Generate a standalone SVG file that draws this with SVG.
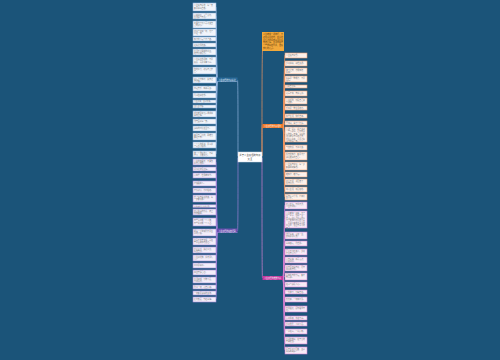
<svg xmlns="http://www.w3.org/2000/svg" width="500" height="360" viewBox="0 0 500 360">
<style>
.bg{fill:#1b5479}
.c1 rect{fill:#f2f5fb;stroke:#8fb2dc;stroke-width:.6}
.c2 rect{fill:#f3eefa;stroke:#a58bd6;stroke-width:.6}
.c3 rect{fill:#fdf2ec;stroke:#f09a6e;stroke-width:.6}
.c4 rect{fill:#f8ecf7;stroke:#d27fcf;stroke-width:.6}
text{font-family:"Noto Sans CJK SC","Noto Sans",sans-serif;font-size:1.9px;fill:#777}
.w{fill:#ffffff}
.d{fill:#5a3a10;font-size:2px}
.l1{fill:none;stroke:#8fb2dc;stroke-width:.7}
.l2{fill:none;stroke:#9b7fd6;stroke-width:.7}
.l3{fill:none;stroke:#f0955e;stroke-width:.7}
.l4{fill:none;stroke:#d67fd0;stroke-width:.7}
</style>
<rect class="bg" x="0" y="0" width="500" height="360"/>
<g id="connectors">
<path class="l1" d="M238 156 C238 120 238 80 237.5 80"/>
<path class="l2" d="M238 158 C238 200 238 231 237.5 231"/>
<path class="l3" d="M262 156 C262 120 262 126 262.5 126"/>
<path class="l3" d="M262 156 C262 100 262 60 262.5 51"/>
<path class="l4" d="M262 158 C262 220 262 278 262.5 278"/>
<path class="l1" d="M217 80 C216.5 80 216.5 7 216 7 M217 80 C216.5 80 216.5 16 216 16 M217 80 C216.5 80 216.5 24 216 24 M217 80 C216.5 80 216.5 32 216 32 M217 80 C216.5 80 216.5 39 216 39 M217 80 C216.5 80 216.5 45 216 45 M217 80 C216.5 80 216.5 52 216 52 M217 80 C216.5 80 216.5 61 216 61 M217 80 C216.5 80 216.5 70 216 70 M217 80 C216.5 80 216.5 88 216 88 M217 80 C216.5 80 216.5 95 216 95 M217 80 C216.5 80 216.5 101 216 101 M217 80 C216.5 80 216.5 106 216 106 M217 80 C216.5 80 216.5 114 216 114 M217 80 C216.5 80 216.5 121 216 121 M217 80 C216.5 80 216.5 128 216 128 M217 80 C216.5 80 216.5 136 216 136 M217 80 C216.5 80 216.5 145 216 145 M217 80 C216.5 80 216.5 154 216 154"/>
<path class="l2" d="M217 231 C216.5 231 216.5 162 216 162 M217 231 C216.5 231 216.5 169 216 169 M217 231 C216.5 231 216.5 175 216 175 M217 231 C216.5 231 216.5 183 216 183 M217 231 C216.5 231 216.5 190 216 190 M217 231 C216.5 231 216.5 198 216 198 M217 231 C216.5 231 216.5 206 216 206 M217 231 C216.5 231 216.5 212 216 212 M217 231 C216.5 231 216.5 222 216 222 M217 231 C216.5 231 216.5 241 216 241 M217 231 C216.5 231 216.5 250 216 250 M217 231 C216.5 231 216.5 258 216 258 M217 231 C216.5 231 216.5 265 216 265 M217 231 C216.5 231 216.5 272 216 272 M217 231 C216.5 231 216.5 280 216 280 M217 231 C216.5 231 216.5 287 216 287 M217 231 C216.5 231 216.5 293 216 293 M217 231 C216.5 231 216.5 299 216 299"/>
<path class="l3" d="M283 126 C284 126 284 55 285 55 M283 126 C284 126 284 63 285 63 M283 126 C284 126 284 71 285 71 M283 126 C284 126 284 79 285 79 M283 126 C284 126 284 86 285 86 M283 126 C284 126 284 93 285 93 M283 126 C284 126 284 101 285 101 M283 126 C284 126 284 108 285 108 M283 126 C284 126 284 116 285 116 M283 126 C284 126 284 123 285 123 M283 126 C284 126 284 134 285 134 M283 126 C284 126 284 147 285 147 M283 126 C284 126 284 156 285 156 M283 126 C284 126 284 166 285 166 M283 126 C284 126 284 174 285 174 M283 126 C284 126 284 182 285 182 M283 126 C284 126 284 189 285 189 M283 126 C284 126 284 197 285 197"/>
<path class="l4" d="M283 278 C284 278 284 205 285 205 M283 278 C284 278 284 219 285 219 M283 278 C284 278 284 235 285 235 M283 278 C284 278 284 243 285 243 M283 278 C284 278 284 252 285 252 M283 278 C284 278 284 260 285 260 M283 278 C284 278 284 268 285 268 M283 278 C284 278 284 276 285 276 M283 278 C284 278 284 284 285 284 M283 278 C284 278 284 292 285 292 M283 278 C284 278 284 299 285 299 M283 278 C284 278 284 309 285 309 M283 278 C284 278 284 318 285 318 M283 278 C284 278 284 324 285 324 M283 278 C284 278 284 331 285 331 M283 278 C284 278 284 340 285 340 M283 278 C284 278 284 350 285 350"/>
</g>
<g id="center"><rect x="238" y="152" width="24" height="10" fill="#ffffff" stroke="#c8d4e4" stroke-width=".5"/><text x="250" y="156.3" text-anchor="middle" style="fill:#333;font-size:2.4px">关于人生感悟的句子</text><text x="250" y="159.6" text-anchor="middle" style="fill:#333;font-size:2.4px">大全</text></g>
<g id="note"><rect x="262" y="32" width="22" height="19" fill="#f2a93b"/><text class="d" x="263" y="35"><tspan x="263">人生就像一场旅行，不</tspan><tspan x="263" dy="2.8">必在乎目的地，在乎的</tspan><tspan x="263" dy="2.8">是沿途的风景以及看风</tspan><tspan x="263" dy="2.8">景的心情。生活中总有</tspan><tspan x="263" dy="2.8">一些美好的句子，温暖</tspan><tspan x="263" dy="2.8">我们的心灵。</tspan></text></g>
<g id="branch-l1"><rect x="217" y="77.5" width="20.5" height="4" fill="#2a6a9a"/><line x1="217" y1="81.5" x2="237.5" y2="81.5" stroke="#8fb2dc" stroke-width=".6"/><text class="w" x="227.2" y="80.6" text-anchor="middle">人生感悟的句子精选</text></g>
<g id="branch-l2"><rect x="217" y="228.5" width="20.5" height="4" fill="#6a4fb0"/><line x1="217" y1="232.5" x2="237.5" y2="232.5" stroke="#a58bd6" stroke-width=".6"/><text class="w" x="227.2" y="231.6" text-anchor="middle">人生感悟的经典语录</text></g>
<g id="branch-r1"><rect x="262.5" y="124" width="20.5" height="4" fill="#ef7b2c"/><text class="w" x="272.7" y="126.9" text-anchor="middle">人生感悟的句子短句</text></g>
<g id="branch-r2"><rect x="262.5" y="276" width="20.5" height="4" fill="#c2399f"/><text class="w" x="272.7" y="278.9" text-anchor="middle">人生感悟的唯美句子</text></g>
<g class="c1">
<g id="l1"><rect x="193" y="3" width="23" height="8"/><text x="194" y="6"><tspan x="194">人生没有彩排，每一天</tspan><tspan x="194" dy="2.5">都是现场直播。</tspan></text></g>
<g id="l2"><rect x="193" y="13" width="23" height="6"/><text x="194" y="15.6"><tspan x="194">心若向阳，无畏悲伤，</tspan><tspan x="194" dy="2.5">生活总会有光。</tspan></text></g>
<g id="l3"><rect x="193" y="21" width="23" height="7"/><text x="194" y="23.8"><tspan x="194">不要为了别人而改变自</tspan><tspan x="194" dy="2.5">己的初心。</tspan></text></g>
<g id="l4"><rect x="193" y="29" width="23" height="7"/><text x="194" y="31.8"><tspan x="194">时间会证明一切，也会</tspan><tspan x="194" dy="2.5">带走一切。</tspan></text></g>
<g id="l5"><rect x="193" y="37" width="23" height="4"/><text x="194" y="39.8">努力的人运气不会差。</text></g>
<g id="l6"><rect x="193" y="43" width="23" height="4"/><text x="194" y="45.8">走好选择的路。</text></g>
<g id="l7"><rect x="193" y="49" width="23" height="6"/><text x="194" y="51.6"><tspan x="194">生活不止眼前的苟且，</tspan><tspan x="194" dy="2.5">还有诗和远方。</tspan></text></g>
<g id="l8"><rect x="193" y="57" width="23" height="8"/><text x="194" y="60"><tspan x="194">人生最大的遗憾，不是</tspan><tspan x="194" dy="2.5">失败，而是我本可以。</tspan></text></g>
<g id="l9"><rect x="193" y="67" width="23" height="7"/><text x="194" y="69.8"><tspan x="194">你的善良，必须有点锋</tspan><tspan x="194" dy="2.5">芒。</tspan></text></g>
<g id="l10"><rect x="193" y="77" width="23" height="6"/><text x="194" y="79.6"><tspan x="194">经历过才懂得，失去过</tspan><tspan x="194" dy="2.5">才珍惜。</tspan></text></g>
<g id="l11"><rect x="193" y="86" width="23" height="5"/><text x="194" y="89.2">知足常乐，随遇而安。</text></g>
<g id="l12"><rect x="193" y="93" width="23" height="5"/><text x="194" y="96.2">凡事往好处想。</text></g>
<g id="l13"><rect x="193" y="100" width="23" height="3"/><text x="194" y="102.3" style="font-size:1.8px">人生如茶，苦尽甘来。</text></g>
<g id="l14"><rect x="193" y="105" width="23" height="3"/><text x="194" y="107.3" style="font-size:1.8px">且行且珍惜。</text></g>
<g id="l15"><rect x="193" y="111" width="23" height="6"/><text x="194" y="113.6"><tspan x="194">成长就是将哭声调成静</tspan><tspan x="194" dy="2.5">音的过程。</tspan></text></g>
<g id="l16"><rect x="193" y="119" width="23" height="5"/><text x="194" y="122.2">微笑面对每一天。</text></g>
<g id="l17"><rect x="193" y="126" width="23" height="5"/><text x="194" y="129.2">最好的时光在当下。</text></g>
<g id="l18"><rect x="193" y="133" width="23" height="7"/><text x="194" y="135.8"><tspan x="194">路是自己选的，再难也</tspan><tspan x="194" dy="2.5">要走下去。</tspan></text></g>
<g id="l19"><rect x="193" y="142" width="23" height="6"/><text x="194" y="144.6"><tspan x="194">一个人的成熟，是从学</tspan><tspan x="194" dy="2.5">会沉默开始的。</tspan></text></g>
<g id="l20"><rect x="193" y="151" width="23" height="6"/><text x="194" y="153.6"><tspan x="194">做一个温暖的人，不卑</tspan><tspan x="194" dy="2.5">不亢，清澈善良。</tspan></text></g>
</g>
<g class="c2">
<g id="l21"><rect x="193" y="159" width="23" height="6"/><text x="194" y="161.6"><tspan x="194">人生的路很长，不要急</tspan><tspan x="194" dy="2.5">着看清结局。</tspan></text></g>
<g id="l22"><rect x="193" y="167" width="23" height="4"/><text x="194" y="169.8">平淡之中见真情。</text></g>
<g id="l23"><rect x="193" y="173" width="23" height="5"/><text x="194" y="176.2">心简单，世界就简单。</text></g>
<g id="l24"><rect x="193" y="181" width="23" height="5"/><text x="194" y="184.2">珍惜眼前人。</text></g>
<g id="l25"><rect x="193" y="188" width="23" height="5"/><text x="194" y="191.2">不忘初心，方得始终。</text></g>
<g id="l26"><rect x="193" y="195" width="23" height="7"/><text x="194" y="197.8"><tspan x="194">世上没有白走的路，每</tspan><tspan x="194" dy="2.5">一步都算数。</tspan></text></g>
<g id="l27"><rect x="193" y="204.8" width="23" height="2.6"/><text x="194" y="206.8" style="font-size:1.7px">愿你被世界温柔以待。</text></g>
<g id="l28"><rect x="193" y="209" width="23" height="6"/><text x="194" y="211.6"><tspan x="194">别让往事的伤悲，爬上</tspan><tspan x="194" dy="2.5">你的眼眸。</tspan></text></g>
<g id="l29"><rect x="193" y="218" width="23" height="8"/><text x="194" y="221"><tspan x="194">有些事只能一个人做，</tspan><tspan x="194" dy="2.5">有些关只能一个人过。</tspan></text></g>
<g id="l30"><rect x="193" y="229" width="23" height="7"/><text x="194" y="231.8"><tspan x="194">把每一个黎明看作是生</tspan><tspan x="194" dy="2.5">命的开始。</tspan></text></g>
<g id="l31"><rect x="193" y="238" width="23" height="7"/><text x="194" y="240.8"><tspan x="194">生命不在于长短，而在</tspan><tspan x="194" dy="2.5">于是否痛快地活过。</tspan></text></g>
<g id="l32"><rect x="193" y="247" width="23" height="6"/><text x="194" y="249.6"><tspan x="194">得之坦然，失之淡然，</tspan><tspan x="194" dy="2.5">顺其自然。</tspan></text></g>
<g id="l33"><rect x="193" y="255" width="23" height="6"/><text x="194" y="257.6"><tspan x="194">人生如逆旅，我亦是行</tspan><tspan x="194" dy="2.5">人。</tspan></text></g>
<g id="l34"><rect x="193" y="263" width="23" height="5"/><text x="194" y="266.2">日日是好日。</text></g>
<g id="l35"><rect x="193" y="270" width="23" height="5"/><text x="194" y="273.2">静坐常思己过。</text></g>
<g id="l36"><rect x="193" y="277" width="23" height="6"/><text x="194" y="279.6"><tspan x="194">生活明朗，万物可爱，</tspan><tspan x="194" dy="2.5">人间值得。</tspan></text></g>
<g id="l37"><rect x="193" y="285" width="23" height="4"/><text x="194" y="287.8">看淡一切，心自清明。</text></g>
<g id="l38"><rect x="193" y="291" width="23" height="4"/><text x="194" y="293.8">一切都是最好的安排。</text></g>
<g id="l39"><rect x="193" y="297" width="23" height="5"/><text x="194" y="300.2">保持热爱，奔赴山海。</text></g>
</g>
<g class="c3">
<g id="r1"><rect x="285" y="53" width="22" height="5"/><text x="286" y="56.2">人生没有如果。</text></g>
<g id="r2"><rect x="285" y="61" width="22" height="5"/><text x="286" y="64.2">岁月静好，现世安稳。</text></g>
<g id="r3"><rect x="285" y="68" width="22" height="6"/><text x="286" y="70.6"><tspan x="286">放下过去，才能拥抱</tspan><tspan x="286" dy="2.5">未来。</tspan></text></g>
<g id="r4"><rect x="285" y="76" width="22" height="6"/><text x="286" y="78.6"><tspan x="286">低头是一种能力，不是</tspan><tspan x="286" dy="2.5">屈辱。</tspan></text></g>
<g id="r5"><rect x="285" y="85" width="22" height="3"/><text x="286" y="87.3" style="font-size:1.8px">心静自然凉。</text></g>
<g id="r6"><rect x="285" y="91" width="22" height="5"/><text x="286" y="94.2">宠辱不惊，去留无意。</text></g>
<g id="r7"><rect x="285" y="98" width="22" height="6"/><text x="286" y="100.6"><tspan x="286">人生短暂，别给自己留</tspan><tspan x="286" dy="2.5">下遗憾。</tspan></text></g>
<g id="r8"><rect x="285" y="106" width="22" height="4"/><text x="286" y="108.8">乐观是一种生活态度。</text></g>
<g id="r9"><rect x="285" y="114" width="22" height="4"/><text x="286" y="116.8">简单生活，快乐自来。</text></g>
<g id="r10"><rect x="285" y="121" width="22" height="4"/><text x="286" y="123.8">莫等闲，白了少年头。</text></g>
<g id="r11"><rect x="285" y="127" width="22" height="15"/><text x="286" y="129.8"><tspan x="286">人这一辈子，总会遇到</tspan><tspan x="286" dy="2.5">一些人和事，让你欢喜</tspan><tspan x="286" dy="2.5">让你忧。其实，最好的</tspan><tspan x="286" dy="2.5">活法就是不纠结过去，</tspan><tspan x="286" dy="2.5">不担心未来，认真过好</tspan><tspan x="286" dy="2.5">当下的每一天。</tspan></text></g>
<g id="r12"><rect x="285" y="145" width="22" height="5"/><text x="286" y="148.2">与其抱怨，不如改变。</text></g>
<g id="r13"><rect x="285" y="152" width="22" height="8"/><text x="286" y="155"><tspan x="286">所有的努力，都是为了</tspan><tspan x="286" dy="2.5">遇见更好的自己。</tspan></text></g>
<g id="r14"><rect x="285" y="162" width="22" height="8"/><text x="286" y="165"><tspan x="286">人生没有捷径，每一步</tspan><tspan x="286" dy="2.5">都要脚踏实地。</tspan></text></g>
<g id="r15"><rect x="285" y="172" width="22" height="5"/><text x="286" y="175.2">越努力，越幸运。</text></g>
<g id="r16"><rect x="285" y="179" width="22" height="6"/><text x="286" y="181.6"><tspan x="286">时光不语，却回答了</tspan><tspan x="286" dy="2.5">所有问题。</tspan></text></g>
<g id="r17"><rect x="285" y="187" width="22" height="5"/><text x="286" y="190.2">用心生活，用爱相处。</text></g>
<g id="r18"><rect x="285" y="194" width="22" height="6"/><text x="286" y="196.6"><tspan x="286">愿你历尽千帆，归来仍</tspan><tspan x="286" dy="2.5">是少年。</tspan></text></g>
</g>
<g class="c4">
<g id="r19"><rect x="285" y="202" width="22" height="7"/><text x="286" y="204.8"><tspan x="286">花开花落，云卷云舒，</tspan><tspan x="286" dy="2.5">人生亦如此。</tspan></text></g>
<g id="r20"><rect x="285" y="211" width="22" height="17"/><text x="286" y="213.8"><tspan x="286">人生就像一杯茶，不会</tspan><tspan x="286" dy="2.5">苦一辈子，但总会苦一</tspan><tspan x="286" dy="2.5">阵子。经历过风雨的人</tspan><tspan x="286" dy="2.5">才会更懂得阳光的可贵</tspan><tspan x="286" dy="2.5">，愿我们都能在平凡的</tspan><tspan x="286" dy="2.5">日子里，活出不平凡的</tspan><tspan x="286" dy="2.5">自己。</tspan></text></g>
<g id="r21"><rect x="285" y="232" width="22" height="7"/><text x="286" y="234.8"><tspan x="286">温柔半两，从容一生，</tspan><tspan x="286" dy="2.5">安好即是晴天。</tspan></text></g>
<g id="r22"><rect x="285" y="241" width="22" height="5"/><text x="286" y="244.2">山高路远，看世界。</text></g>
<g id="r23"><rect x="285" y="249" width="22" height="6"/><text x="286" y="251.6"><tspan x="286">星光不问赶路人，岁月</tspan><tspan x="286" dy="2.5">不负有心人。</tspan></text></g>
<g id="r24"><rect x="285" y="257" width="22" height="6"/><text x="286" y="259.6"><tspan x="286">心有山海，静而无边，</tspan><tspan x="286" dy="2.5">心若向阳。</tspan></text></g>
<g id="r25"><rect x="285" y="265" width="22" height="6"/><text x="286" y="267.6"><tspan x="286">春有百花秋有月，夏有</tspan><tspan x="286" dy="2.5">凉风冬有雪。</tspan></text></g>
<g id="r26"><rect x="285" y="273" width="22" height="7"/><text x="286" y="275.8"><tspan x="286">愿你所有的幸运，都不</tspan><tspan x="286" dy="2.5">期而遇。</tspan></text></g>
<g id="r27"><rect x="285" y="282" width="22" height="5"/><text x="286" y="285.2">烟火气最抚人心。</text></g>
<g id="r28"><rect x="285" y="290" width="22" height="4"/><text x="286" y="292.8">一念放下，万般自在。</text></g>
<g id="r29"><rect x="285" y="297" width="22" height="5"/><text x="286" y="300.2">慢慢来，一切来得及。</text></g>
<g id="r30"><rect x="285" y="306" width="22" height="6"/><text x="286" y="308.6"><tspan x="286">世界很大，愿你眼里有</tspan><tspan x="286" dy="2.5">光。</tspan></text></g>
<g id="r31"><rect x="285" y="316" width="22" height="4"/><text x="286" y="318.8">清风徐来，水波不兴。</text></g>
<g id="r32"><rect x="285" y="322" width="22" height="4"/><text x="286" y="324.8">岁月温柔，人间可爱。</text></g>
<g id="r33"><rect x="285" y="329" width="22" height="5"/><text x="286" y="332.2">一半烟火，一半清欢。</text></g>
<g id="r34"><rect x="285" y="337" width="22" height="7"/><text x="286" y="339.8"><tspan x="286">生活的美好，在于它的</tspan><tspan x="286" dy="2.5">不确定性。</tspan></text></g>
<g id="r35"><rect x="285" y="347" width="22" height="7"/><text x="286" y="349.8"><tspan x="286">愿有岁月可回首，且以</tspan><tspan x="286" dy="2.5">深情共白头。</tspan></text></g>
</g>
</svg>
